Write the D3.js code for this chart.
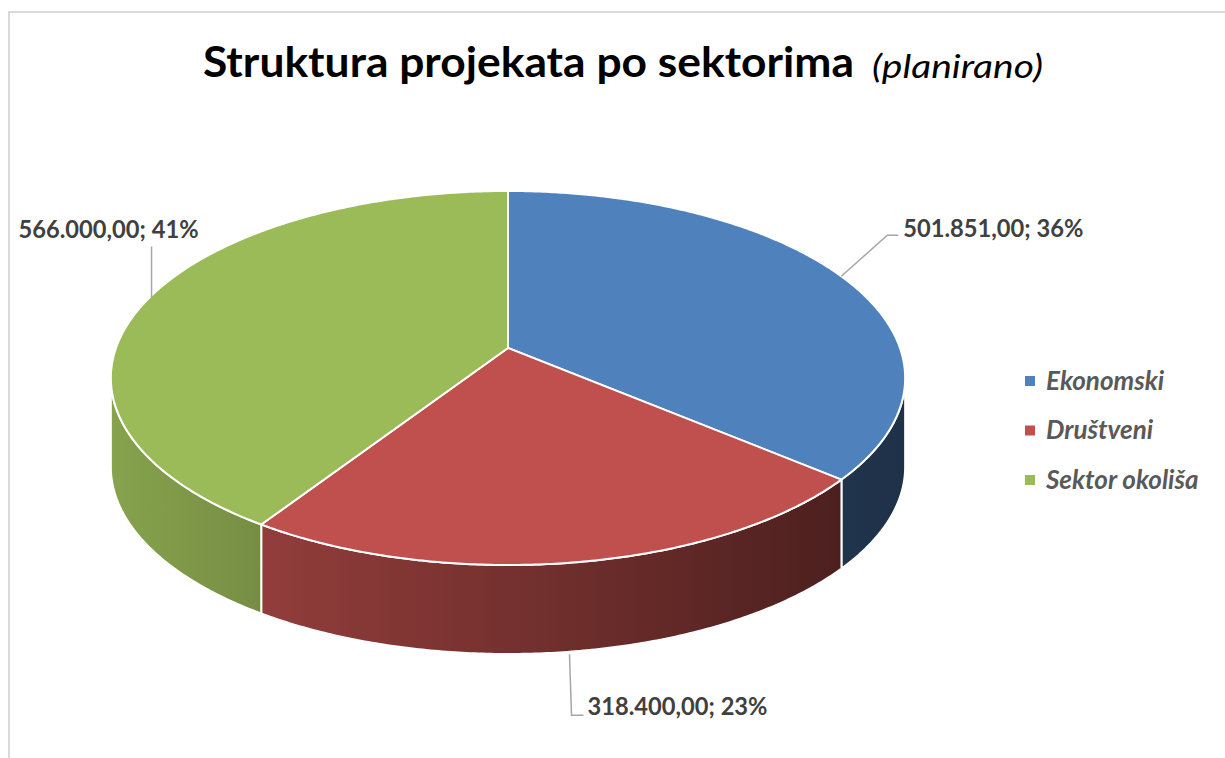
<!DOCTYPE html>
<html>
<head>
<meta charset="utf-8">
<script src="https://cdn.jsdelivr.net/npm/d3@7"></script>
<style>
  html, body { margin: 0; padding: 0; background: #ffffff; }
  svg { display: block; }
</style>
</head>
<body>
<svg id="chart" width="1225" height="758"></svg>
<script>
// ---------- data ----------
const categories = ["Ekonomski", "Društveni", "Sektor okoliša"];
const values = [501851, 318400, 566000];
const titleMain = "Struktura projekata po sektorima";
const titleSub = "(planirano)";

// ---------- styles / layout ----------
const colors = ["#4F81BD", "#C0504D", "#9BBB59"];
const W = 1225, H = 758;
const geo = { cx: 508, cy: 348, A: 392, B: 182.2, k: 0.1604, D: 89 };
// leader-line & label layout, offsets relative to each slice's anchor point
const labelLayout = [
  { depth: 0, pts: [[0, 0], [46, -41], [57, -41]], text: [62, -39], anchor: "start" },
  { depth: 1, pts: [[-6, 3], [-4, 64], [8, 64]], text: [12, 64], anchor: "start" },
  { depth: 0, pts: [[3, -1], [3, -52]], text: [50, -60], anchor: "end" }
];

const svg = d3.select("#chart");
const FONT = "Lato, 'Open Sans', 'DejaVu Sans', sans-serif";

// chart border (light grey)
svg.append("rect")
  .attr("x", 9).attr("y", 12).attr("width", W + 40).attr("height", H + 40)
  .attr("fill", "none").attr("stroke", "#d9d9d9").attr("stroke-width", 2);

// ---------- title ----------
svg.append("text")
  .attr("x", 203).attr("y", 77)
  .attr("font-family", FONT).attr("font-weight", 700).attr("font-size", 42)
  .attr("fill", "#000").text(titleMain)
  .attr("textLength", 651).attr("lengthAdjust", "spacingAndGlyphs");
svg.append("text")
  .attr("x", 872).attr("y", 78)
  .attr("font-family", FONT).attr("font-style", "italic").attr("font-weight", 400).attr("font-size", 33)
  .attr("fill", "#000").text(titleSub)
  .attr("textLength", 171).attr("lengthAdjust", "spacingAndGlyphs");

// ---------- pie geometry (perspective-projected disc) ----------
const pie = d3.pie().sort(null).value(d => d);
const arcs = pie(values);
const total = d3.sum(values);

function proj(phi, h) {
  const u = Math.sin(phi), v = -Math.cos(phi);
  const d = 1 - geo.k * v;
  return [geo.cx + geo.A * u / d, geo.cy + geo.B * v / d + h];
}
function arcPoints(a, b, h) {
  const n = Math.max(2, Math.ceil(Math.abs(b - a) / (Math.PI / 360)));
  const pts = [];
  for (let i = 0; i <= n; i++) pts.push(proj(a + (b - a) * i / n, h));
  return pts;
}
const line = d3.line();

const phiR = Math.acos(-geo.k);               // right silhouette
const phiL = 2 * Math.PI - Math.acos(-geo.k); // left silhouette

// gradients for sides
const defs = svg.append("defs");
const shadeStops = [[0, 0.87], [0.19, 0.76], [0.6, 0.56], [0.91, 0.40], [1, 0.38]];
colors.forEach((c, i) => {
  const g = defs.append("linearGradient")
    .attr("id", "side" + i).attr("gradientUnits", "userSpaceOnUse")
    .attr("x1", geo.cx - geo.A * 1.02).attr("x2", geo.cx + geo.A * 1.02)
    .attr("y1", 0).attr("y2", 0);
  const base = d3.rgb(c);
  shadeStops.forEach(([o, f]) => {
    g.append("stop").attr("offset", o)
      .attr("stop-color", d3.rgb(base.r * f, base.g * f, base.b * f).formatHex());
  });
});

// sides
const sideG = svg.append("g");
arcs.forEach((a, i) => {
  const s = Math.max(a.startAngle, phiR), e = Math.min(a.endAngle, phiL);
  if (e <= s) return;
  const top = arcPoints(s, e, 0);
  const bot = arcPoints(e, s, geo.D);
  sideG.append("path")
    .attr("d", line(top.concat(bot)) + "Z")
    .attr("fill", `url(#side${i})`)
    .attr("stroke", "#ffffff").attr("stroke-width", 2).attr("stroke-linejoin", "round");
});

// top faces
const topG = svg.append("g");
arcs.forEach((a, i) => {
  const pts = [[geo.cx, geo.cy]].concat(arcPoints(a.startAngle, a.endAngle, 0));
  topG.append("path")
    .attr("d", line(pts) + "Z")
    .attr("fill", colors[i])
    .attr("stroke", "#ffffff").attr("stroke-width", 2).attr("stroke-linejoin", "round");
});

// ---------- data labels ----------
const fmt = d3.formatLocale({ decimal: ",", thousands: ".", grouping: [3], currency: ["", ""] }).format(",.2f");
const labG = svg.append("g");
arcs.forEach((a, i) => {
  const L = labelLayout[i];
  const mid = (a.startAngle + a.endAngle) / 2;
  const [ax, ay] = proj(mid, L.depth * geo.D);
  labG.append("path")
    .attr("d", line(L.pts.map(p => [ax + p[0], ay + p[1]])))
    .attr("fill", "none").attr("stroke", "#a6a6a6").attr("stroke-width", 1.5);
  const pct = Math.round(values[i] / total * 100);
  labG.append("text")
    .attr("x", ax + L.text[0]).attr("y", ay + L.text[1])
    .attr("text-anchor", L.anchor)
    .attr("font-family", FONT).attr("font-weight", 700).attr("font-size", 24)
    .attr("fill", "#404040")
    .attr("textLength", 180).attr("lengthAdjust", "spacingAndGlyphs")
    .text(`${fmt(values[i])}; ${pct}%`);
});

// ---------- legend ----------
const leg = svg.append("g").attr("transform", "translate(1025,381)");
categories.forEach((c, i) => {
  const g = leg.append("g").attr("transform", `translate(0,${i * 49.5})`);
  g.append("rect").attr("x", 0).attr("y", -5).attr("width", 10).attr("height", 10).attr("fill", colors[i]);
  g.append("text").attr("x", 21).attr("y", 8.5)
    .attr("font-family", FONT).attr("font-weight", 700).attr("font-style", "italic")
    .attr("font-size", 26).attr("fill", "#595959").text(c);
});
</script>
</body>
</html>
